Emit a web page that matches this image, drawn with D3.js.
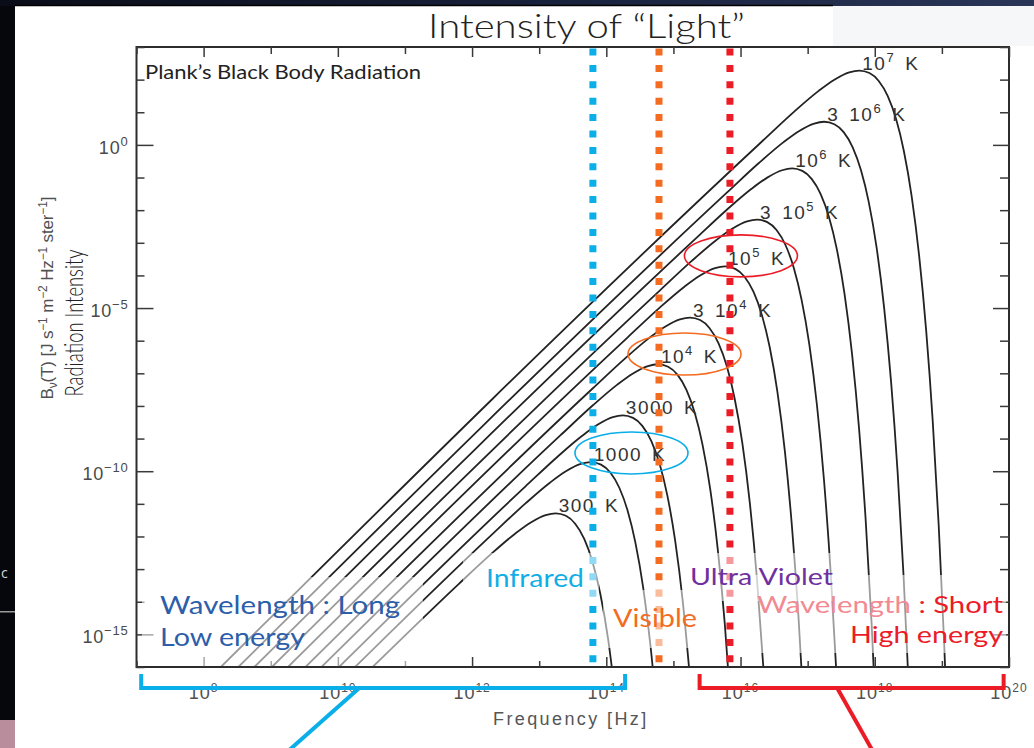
<!DOCTYPE html>
<html>
<head>
<meta charset="utf-8">
<script src="https://cdn.jsdelivr.net/npm/d3@7"></script>
<style>
  html, body { margin: 0; padding: 0; background: #0b1020; }
  svg { display: block; }
</style>
</head>
<body>
<svg id="chart" width="1034" height="748"></svg>
<script>
// ---------------------------------------------------------------
// Black body spectra B_nu(T).  Each point is [log10 frequency (Hz),
// log10 intensity (J s^-1 m^-2 Hz^-1 ster^-1)].
// ---------------------------------------------------------------
const spectrum300K = [[10.5177,-16],[11.7959,-13.4654],[12.2730,-12.5560],[12.6410,-11.9141],[12.8751,-11.5715],[13.0969,-11.3458],[13.2462,-11.2908],[13.3980,-11.3665],[13.5363,-11.6093],[13.6710,-12.0753],[13.7959,-12.7864],[13.9098,-13.7475],[14.0264,-15.1352],[14.1383,-16.9707]];
const spectrum1000K = [[10.2563,-16],[12.3188,-11.8968],[12.7959,-10.9874],[13.1639,-10.3455],[13.3980,-10.0029],[13.6198,-9.7772],[13.7691,-9.7222],[13.9209,-9.7979],[14.0592,-10.0407],[14.1939,-10.5067],[14.3188,-11.2178],[14.4327,-12.1789],[14.5493,-13.5666],[14.6612,-15.4021],[14.7660,-17.6937]];
const spectrum3000K = [[10.0177,-16],[12.7959,-10.4654],[13.2730,-9.5560],[13.6410,-8.9141],[13.8751,-8.5715],[14.0969,-8.3458],[14.2462,-8.2908],[14.3980,-8.3665],[14.5363,-8.6093],[14.6710,-9.0753],[14.7959,-9.7864],[14.9098,-10.7475],[15.0264,-12.1352],[15.1383,-13.9707],[15.2431,-16.2623]];
const spectrum1e4K = [[9.7563,-16],[13.3188,-8.8968],[13.7959,-7.9874],[14.1639,-7.3455],[14.3980,-7.0029],[14.6198,-6.7772],[14.7691,-6.7222],[14.9209,-6.7979],[15.0592,-7.0407],[15.1939,-7.5067],[15.3188,-8.2178],[15.4327,-9.1789],[15.5493,-10.5666],[15.6612,-12.4021],[15.7660,-14.6937],[15.8629,-17.4430]];
const spectrum3e4K = [[9.5177,-16],[13.7959,-7.4654],[14.2730,-6.5560],[14.6410,-5.9141],[14.8751,-5.5715],[15.0969,-5.3458],[15.2462,-5.2908],[15.3980,-5.3665],[15.5363,-5.6093],[15.6710,-6.0753],[15.7959,-6.7864],[15.9098,-7.7475],[16.0264,-9.1352],[16.1383,-10.9707],[16.2431,-13.2623],[16.3400,-16.0116]];
const spectrum1e5K = [[9.2563,-16],[14.3188,-5.8968],[14.7959,-4.9874],[15.1639,-4.3455],[15.3980,-4.0029],[15.6198,-3.7772],[15.7691,-3.7222],[15.9209,-3.7979],[16.0592,-4.0407],[16.1939,-4.5067],[16.3188,-5.2178],[16.4327,-6.1789],[16.5493,-7.5666],[16.6612,-9.4021],[16.7660,-11.6937],[16.8629,-14.4430],[16.9523,-17.6492]];
const spectrum3e5K = [[9.0177,-16],[14.7959,-4.4654],[15.2730,-3.5560],[15.6410,-2.9141],[15.8751,-2.5715],[16.0969,-2.3458],[16.2462,-2.2908],[16.3980,-2.3665],[16.5363,-2.6093],[16.6710,-3.0753],[16.7959,-3.7864],[16.9098,-4.7475],[17.0264,-6.1352],[17.1383,-7.9707],[17.2431,-10.2623],[17.3400,-13.0116],[17.4294,-16.2178]];
const spectrum1e6K = [[8.7563,-16],[15.3188,-2.8968],[15.7959,-1.9874],[16.1639,-1.3455],[16.3980,-1.0029],[16.6198,-0.7772],[16.7691,-0.7222],[16.9209,-0.7979],[17.0592,-1.0407],[17.1939,-1.5067],[17.3188,-2.2178],[17.4327,-3.1789],[17.5493,-4.5666],[17.6612,-6.4021],[17.7660,-8.6937],[17.8629,-11.4430],[17.9523,-14.6492],[18.0348,-18.3102]];
const spectrum3e6K = [[8.5177,-16],[15.7959,-1.4654],[16.2730,-0.5560],[16.6410,0.0859],[16.8751,0.4285],[17.0969,0.6542],[17.2462,0.7092],[17.3980,0.6335],[17.5363,0.3907],[17.6710,-0.0753],[17.7959,-0.7864],[17.9098,-1.7475],[18.0264,-3.1352],[18.1383,-4.9707],[18.2431,-7.2623],[18.3400,-10.0116],[18.4294,-13.2178],[18.5119,-16.8788]];
const spectrum1e7K = [[8.2563,-16],[16.3188,0.1032],[16.7959,1.0126],[17.1639,1.6545],[17.3980,1.9971],[17.6198,2.2228],[17.7691,2.2778],[17.9209,2.2021],[18.0592,1.9593],[18.1939,1.4933],[18.3188,0.7822],[18.4327,-0.1789],[18.5493,-1.5666],[18.6612,-3.4021],[18.7660,-5.6937],[18.8629,-8.4430],[18.9523,-11.6492],[19.0348,-15.3102],[19.1112,-19.4240]];

// Temperature labels: optional leading factor, power of ten, exponent
const curveLabels = [
  { lead: "",  base: "300",  sup: ""  },
  { lead: "",  base: "1000", sup: ""  },
  { lead: "",  base: "3000", sup: ""  },
  { lead: "",  base: "10",   sup: "4" },
  { lead: "3", base: "10",   sup: "4" },
  { lead: "",  base: "10",   sup: "5" },
  { lead: "3", base: "10",   sup: "5" },
  { lead: "",  base: "10",   sup: "6" },
  { lead: "3", base: "10",   sup: "6" },
  { lead: "",  base: "10",   sup: "7" }
];
const spectra = [spectrum300K, spectrum1000K, spectrum3000K, spectrum1e4K, spectrum3e4K,
                 spectrum1e5K, spectrum3e5K, spectrum1e6K, spectrum3e6K, spectrum1e7K];

// Axis decades and labelled exponents
const xDecades = d3.range(7, 21);
const xTickExponents = [8, 10, 12, 14, 16, 18, 20];
const yDecades = d3.range(-16, 4);
const yTickExponents = [0, -5, -10, -15];

// Band boundaries (log10 Hz): infrared, visible, ultraviolet
const bandFreqs = [13.80, 14.785, 15.842];
// Highlighted temperature labels: [log10 Hz, log10 B] of each ring centre
const ringCentres = [[14.375, -9.44], [15.165, -6.41], [16.006, -3.40]];
// Frequency spans of the long / short wavelength brackets (log10 Hz)
const longSpan = [7.07, 14.28];
const shortSpan = [15.39, 19.92];

// ---------------------------------------------------------------
const svg = d3.select("#chart");
const W = 1034, H = 748;
const plot = { left: 136.5, right: 1009, top: 47, bottom: 667 };

const x = d3.scaleLog().domain([1e7, 1e20]).range([plot.left, plot.right]);
const y = d3.scaleLog().domain([1e-16, 1e3]).range([plot.bottom, plot.top]);
const px = d => x(10 ** d[0]);
const py = d => y(10 ** d[1]);

const BLUE = "#0aaee8", ORANGE = "#f36c22", RED = "#ec1c27";
const slideFont = "Lato, 'Noto Sans', sans-serif";
const figFont = "'Liberation Sans', Arial, sans-serif";

// ---- backdrop: starry edge and white slide panel ----
const defs = svg.append("defs");
const space = defs.append("linearGradient").attr("id", "space").attr("x1", 0).attr("x2", 1).attr("y1", 0).attr("y2", 0);
space.append("stop").attr("offset", "0%").attr("stop-color", "#0a0d18");
space.append("stop").attr("offset", "60%").attr("stop-color", "#1a2440");
space.append("stop").attr("offset", "100%").attr("stop-color", "#2a3658");
svg.append("rect").attr("width", W).attr("height", H).attr("fill", "#05070d");
svg.append("rect").attr("width", W).attr("height", 6).attr("fill", "url(#space)");
svg.append("rect").attr("x", 15).attr("y", 6).attr("width", W - 15).attr("height", H - 6).attr("fill", "#ffffff");
svg.append("rect").attr("x", 833).attr("y", 6).attr("width", W - 833).attr("height", 40).attr("fill", "#f6f7f8");
svg.append("line").attr("x1", 15).attr("x2", 833).attr("y1", 5.5).attr("y2", 5.5).attr("stroke", "#000").attr("stroke-width", 1.5);
svg.append("rect").attr("x", 0).attr("y", 611).attr("width", 15).attr("height", 1.5).attr("fill", "#9a9a9a");
svg.append("rect").attr("x", 0).attr("y", 720).attr("width", 15).attr("height", 28).attr("fill", "#b98d9c");
svg.append("text").attr("x", 1).attr("y", 578).attr("font-family", "'Open Sans', sans-serif")
  .attr("font-size", 14).attr("fill", "#d8d8d8").text("c");

// ---- chart ----
defs.append("clipPath").attr("id", "plotClip").append("rect")
  .attr("x", plot.left).attr("y", plot.top)
  .attr("width", plot.right - plot.left).attr("height", plot.bottom - plot.top);

const chart = svg.append("g");

const line = d3.line().x(px).y(py).curve(d3.curveMonotoneX);
chart.append("g").attr("clip-path", "url(#plotClip)")
  .selectAll("path").data(spectra).join("path")
  .attr("d", line).attr("fill", "none")
  .attr("stroke", "#232323").attr("stroke-width", 1.8);

// frame
chart.append("rect")
  .attr("x", plot.left).attr("y", plot.top)
  .attr("width", plot.right - plot.left).attr("height", plot.bottom - plot.top)
  .attr("fill", "none").attr("stroke", "#2c2c2c").attr("stroke-width", 2);

// inward ticks on all four sides
function ticks(axisGen, transform, values, len) {
  const g = chart.append("g").attr("transform", transform)
    .call(axisGen.tickValues(values).tickSize(-len).tickFormat(""));
  g.select(".domain").remove();
  g.selectAll("line").attr("stroke", "#3a3a3a").attr("stroke-width", 1.5);
}
const xMajor = xTickExponents.map(e => 10 ** e);
const xMinor = xDecades.filter(e => !xTickExponents.includes(e)).map(e => 10 ** e);
const yMajor = yTickExponents.map(e => 10 ** e);
const yMinor = yDecades.filter(e => !yTickExponents.includes(e)).map(e => 10 ** e);
ticks(d3.axisBottom(x), `translate(0,${plot.bottom})`, xMajor, 10);
ticks(d3.axisBottom(x), `translate(0,${plot.bottom})`, xMinor, 6);
ticks(d3.axisTop(x), `translate(0,${plot.top})`, xMajor, 10);
ticks(d3.axisTop(x), `translate(0,${plot.top})`, xMinor, 7);
ticks(d3.axisLeft(y), `translate(${plot.left},0)`, yMajor, 17);
ticks(d3.axisLeft(y), `translate(${plot.left},0)`, yMinor, 8);
ticks(d3.axisRight(y), `translate(${plot.right},0)`, yMajor, 16);
ticks(d3.axisRight(y), `translate(${plot.right},0)`, yMinor, 9);

const minus = s => s.replace("-", "\u2212");

// x tick labels
xTickExponents.forEach(e => {
  const t = chart.append("text")
    .attr("x", x(10 ** e)).attr("y", plot.bottom + 32)
    .attr("text-anchor", "middle")
    .attr("font-family", figFont).attr("font-size", 18).attr("fill", "#505050")
    .attr("letter-spacing", 1);
  t.append("tspan").text("10");
  t.append("tspan").attr("dy", -7).attr("font-size", 12).text(minus(String(e)));
});

// y tick labels
yTickExponents.forEach(e => {
  const t = chart.append("text")
    .attr("x", plot.left - 8).attr("y", y(10 ** e) + 9)
    .attr("text-anchor", "end")
    .attr("font-family", figFont).attr("font-size", 18).attr("fill", "#4a4a4a")
    .attr("letter-spacing", 0.8);
  t.append("tspan").text("10");
  t.append("tspan").attr("dy", -8).attr("font-size", 13).text(minus(String(e)));
});

// axis titles
chart.append("text")
  .attr("x", 493).attr("y", 725)
  .attr("font-family", figFont).attr("font-size", 18).attr("fill", "#555")
  .attr("letter-spacing", 2.4)
  .text("Frequency [Hz]");

const yTitle = chart.append("text")
  .attr("transform", "translate(53,298) rotate(-90)")
  .attr("text-anchor", "middle")
  .attr("font-family", figFont).attr("font-size", 17).attr("fill", "#505050")
  .attr("textLength", 203).attr("lengthAdjust", "spacing");
[["B", 0, 17], ["\u03bd", 4, 12], ["(T) [J s", -4, 17], ["\u22121", -6, 12], [" m", 6, 17],
 ["\u22122", -6, 12], [" Hz", 6, 17], ["\u22121", -6, 12], [" ster", 6, 17], ["\u22121", -6, 12], ["]", 6, 17]]
  .forEach(([s, dy, fs]) => yTitle.append("tspan").attr("dy", dy).attr("font-size", fs).text(s));

// temperature labels, anchored at each curve's peak
spectra.forEach((curve, i) => {
  const peak = d3.greatest(curve, d => d[1]);
  const lab = curveLabels[i];
  const t = chart.append("text")
    .attr("x", px(peak) + 3).attr("y", py(peak) - 1)
    .attr("font-family", figFont).attr("font-size", 19).attr("fill", "#333")
    .attr("letter-spacing", 1.5);
  if (lab.lead) {
    t.append("tspan").text(lab.lead);
    t.append("tspan").attr("dx", 10).text(lab.base);
  } else {
    t.append("tspan").text(lab.base);
  }
  if (lab.sup) {
    t.append("tspan").attr("dy", -8).attr("font-size", 13).text(lab.sup);
    t.append("tspan").attr("dy", 8).attr("dx", 10).text("K");
  } else {
    t.append("tspan").attr("dx", 10).text("K");
  }
});

// ---- band guides (dotted) ----
const guideColors = [BLUE, ORANGE, RED];
svg.append("g").selectAll("line").data(bandFreqs).join("line")
  .attr("x1", f => x(10 ** f)).attr("x2", f => x(10 ** f))
  .attr("y1", 48.5).attr("y2", plot.bottom - 2)
  .attr("stroke", (f, i) => guideColors[i]).attr("stroke-width", 7)
  .attr("stroke-dasharray", "7 9.4");

// rings around three temperature labels
const ringColors = [BLUE, ORANGE, RED];
svg.append("g").selectAll("ellipse").data(ringCentres).join("ellipse")
  .attr("cx", px).attr("cy", py).attr("rx", 56.5).attr("ry", 21)
  .attr("fill", "none").attr("stroke", (d, i) => ringColors[i]).attr("stroke-width", 1.6);

// ---- translucent text boxes ----
const boxes = [
  [142, 577, 281, 89],
  [463, 553, 136, 50],
  [603, 590, 97, 58],
  [685, 553, 160, 48],
  [740, 575, 266, 78]
];
svg.append("g").selectAll("rect").data(boxes).join("rect")
  .attr("x", d => d[0]).attr("y", d => d[1]).attr("width", d => d[2]).attr("height", d => d[3])
  .attr("fill", "#fff").attr("fill-opacity", 0.55);

// ---- slide text ----
function slideText(str, xPos, yPos, size, color, width, anchor, weight) {
  const t = svg.append("text")
    .attr("x", xPos).attr("y", yPos)
    .attr("font-family", slideFont).attr("font-weight", weight || 400)
    .attr("font-size", size).attr("fill", color)
    .attr("text-anchor", anchor || "start")
    .text(str);
  if (width) t.attr("textLength", width).attr("lengthAdjust", "spacingAndGlyphs");
  return t;
}
slideText("Intensity of \u201cLight\u201d", 428, 38, 34, "#222", 317, "start", 300);
slideText("Plank\u2019s Black Body Radiation", 145, 79, 20, "#222", 276);
slideText("Wavelength : Long", 160, 614, 25, "#2d5ea9", 240);
slideText("Low energy", 160, 646, 25, "#2d5ea9", 145);
slideText("Infrared", 486, 587, 25, "#11aee6", 98);
slideText("Visible", 613, 627, 25, "#f36c22", 84);
slideText("Ultra Violet", 690, 585, 24, "#7030a0", 143);
const shortT = svg.append("text")
  .attr("x", 757).attr("y", 613)
  .attr("font-family", slideFont).attr("font-size", 24)
  .attr("textLength", 246).attr("lengthAdjust", "spacingAndGlyphs");
shortT.append("tspan").attr("fill", "#f28a93").text("Wavelength");
shortT.append("tspan").attr("fill", RED).text(" : Short");
slideText("High energy", 1003, 643, 24, RED, 153, "end");

// rotated slide label over the axis title
svg.append("text")
  .attr("transform", "translate(83,323) rotate(-90)")
  .attr("text-anchor", "middle")
  .attr("font-family", slideFont).attr("font-weight", 300)
  .attr("font-size", 25).attr("fill", "#222")
  .attr("textLength", 147).attr("lengthAdjust", "spacingAndGlyphs")
  .text("Radiation Intensity");

// ---- brackets below the axis ----
function bracket(span, color, tailFrom, tailTo) {
  const g = svg.append("g").attr("fill", "none").attr("stroke", color)
    .attr("stroke-width", 4).attr("stroke-linejoin", "miter");
  const x0 = x(10 ** span[0]), x1 = x(10 ** span[1]);
  g.append("path").attr("d", `M${x0},674 V688 H${x1} V674`);
  g.append("line").attr("x1", x(10 ** tailFrom)).attr("y1", 688)
    .attr("x2", x(10 ** tailFrom) + tailTo).attr("y2", H + 2);
}
bracket(longSpan, BLUE, 10.32, -70);
bracket(shortSpan, RED, 17.44, 35);
</script>
</body>
</html>
